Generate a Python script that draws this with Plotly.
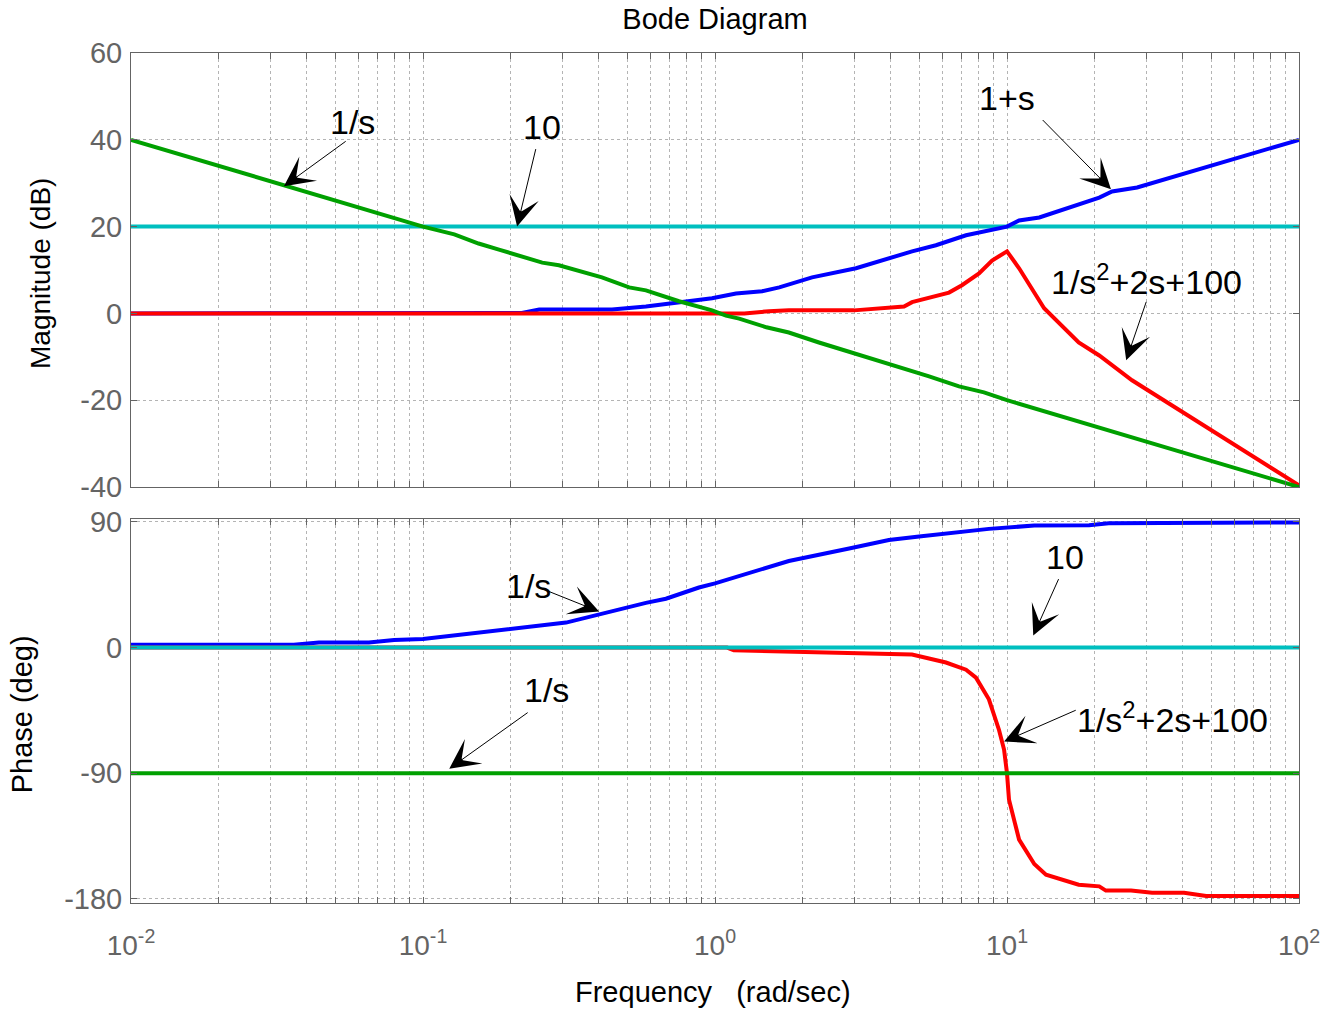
import numpy as np
import plotly.graph_objects as go
from plotly.subplots import make_subplots

# ---------------- data ----------------
# 1/s  (magnitude in dB, phase in deg)
w_int = [0.01, 0.1, 0.128, 0.155, 0.182, 0.202, 0.256, 0.292, 0.379, 0.41, 0.508, 0.58,
         0.753, 0.977, 1.09, 1.21, 1.5, 1.79, 2.27, 2.88, 3.37, 4.27, 5.41, 6.85, 8.34, 10, 100]
mag_int = [40, 20, 18.2, 16.1, 14.7, 13.8, 11.7, 11.1, 8.8, 8.3, 6.0, 5.3,
           2.8, 0.7, -0.5, -1.2, -3.2, -4.4, -6.7, -8.8, -10.1, -12.2, -14.5, -16.8, -18.2, -20, -40]
w_int_ph = [0.01, 100]
ph_int = [-90, -90]

# gain 10
w_gain = [0.01, 100]
mag_gain = [20, 20]
ph_gain = [0, 0]

# 1+s
w_lead = [0.01, 0.218, 0.25, 0.444, 0.58, 0.753, 0.977, 1.18, 1.45, 1.66, 2.15, 3.04, 3.94,
          4.73, 5.71, 7.24, 10.0, 11.0, 12.9, 16.3, 20.7, 22.9, 27.9, 100]
mag_lead = [0, 0.1, 0.9, 0.9, 1.6, 2.5, 3.5, 4.6, 5.1, 6.0, 8.3, 10.4, 12.7,
            14.3, 15.7, 18.0, 20.0, 21.4, 22.1, 24.4, 26.7, 28.1, 29.0, 40.0]
w_lead_ph = [0.01, 0.0361, 0.044, 0.0653, 0.0796, 0.1, 0.309, 0.401, 0.508, 0.58, 0.679,
             0.881, 1.0, 1.79, 2.88, 3.94, 5.0, 8.67, 12.4, 19.1, 22.3, 100]
ph_lead = [2.1, 2.1, 3.6, 3.6, 5.5, 6.2, 17.9, 23.6, 29.4, 32, 35,
           43, 46, 62, 71, 77, 79.5, 85, 87.4, 87.6, 89, 89.6]

# 1/(s^2+2s+100), normalised
w_osc = [0.01, 1.26, 1.53, 1.79, 2.99, 4.44, 4.73, 5.54, 6.33, 7.01, 8.02, 8.89, 10.0,
         11.0, 13.4, 17.6, 20.7, 26.8, 57.5, 100]
mag_osc = [0, 0, 0.5, 0.7, 0.7, 1.6, 2.6, 3.7, 4.8, 6.5, 9.2, 12.2, 14.3,
           10.4, 1.2, -6.7, -9.7, -15.4, -29.3, -39.6]
w_osc_ph = [0.01, 1.1, 1.16, 3.11, 4.73, 6.18, 7.24, 7.83, 8.67, 9.39, 9.77, 10.0, 10.16,
            11.0, 12.4, 13.6, 17.6, 20.7, 21.8, 26.6, 31.4, 40.4, 48.1, 100]
ph_osc = [0, 0, -2, -3.8, -5, -10.7, -15.8, -21.5, -37, -59, -73, -90, -109,
          -137.5, -155, -162.6, -169.8, -171, -174, -174, -175.5, -175.5, -177.8, -177.8]

mag_ticks = [-40, -20, 0, 20, 40, 60]
mag_labels = ["-40", "-20", "0", "20", "40", "60"]
ph_ticks = [-180, -90, 0, 90]
ph_labels = ["-180", "-90", "0", "90"]
freq_ticks = [0.01, 0.1, 1, 10, 100]
freq_labels = ["10<sup>-2</sup>", "10<sup>-1</sup>", "10<sup>0</sup>", "10<sup>1</sup>", "10<sup>2</sup>"]

GREEN = "#00A000"
CYAN = "#00BFBF"
BLUE = "#0000FF"
RED = "#FF0000"
AX = "#646464"
GRID = "#b4b4b4"
FONT = "Liberation Sans, Arial, sans-serif"

minor_vals = [m * 10.0 ** k for k in range(-2, 2) for m in range(2, 10)]

fig = make_subplots(rows=2, cols=1, shared_xaxes=False, vertical_spacing=0.0)

LW = 4
# magnitude plot
fig.add_trace(go.Scatter(x=w_gain, y=mag_gain, mode="lines", line=dict(color=CYAN, width=LW)), row=1, col=1)
fig.add_trace(go.Scatter(x=w_lead, y=mag_lead, mode="lines", line=dict(color=BLUE, width=LW)), row=1, col=1)
fig.add_trace(go.Scatter(x=w_osc, y=mag_osc, mode="lines", line=dict(color=RED, width=LW)), row=1, col=1)
fig.add_trace(go.Scatter(x=w_int, y=mag_int, mode="lines", line=dict(color=GREEN, width=LW)), row=1, col=1)
# phase plot
fig.add_trace(go.Scatter(x=w_lead_ph, y=ph_lead, mode="lines", line=dict(color=BLUE, width=LW)), row=2, col=1)
fig.add_trace(go.Scatter(x=w_osc_ph, y=ph_osc, mode="lines", line=dict(color=RED, width=LW)), row=2, col=1)
fig.add_trace(go.Scatter(x=w_int_ph, y=ph_int, mode="lines", line=dict(color=GREEN, width=LW)), row=2, col=1)
fig.add_trace(go.Scatter(x=w_gain, y=ph_gain, mode="lines", line=dict(color=CYAN, width=LW)), row=2, col=1)

xcommon = dict(
    type="log", range=[-2, 2], showline=True, linecolor=AX, linewidth=1, mirror="ticks",
    ticks="inside", ticklen=6, tickcolor=AX, tickvals=freq_ticks, automargin=False,
    showgrid=True, gridcolor=GRID, griddash="dot", gridwidth=1, zeroline=False,
    minor=dict(tickvals=minor_vals, ticks="inside", ticklen=6, tickcolor=AX,
               showgrid=True, gridcolor=GRID, griddash="dot", gridwidth=1),
    tickfont=dict(family=FONT, size=28, color=AX),
)
ycommon = dict(
    showline=True, linecolor=AX, linewidth=1, mirror="ticks", automargin=False,
    ticks="inside", ticklen=6, tickcolor=AX, ticklabelstandoff=2,
    showgrid=True, gridcolor=GRID, griddash="dot", gridwidth=1, zeroline=False,
    tickfont=dict(family=FONT, size=29, color=AX),
)

fig.update_layout(
    xaxis=dict(xcommon, domain=[0, 1], showticklabels=False, anchor="y"),
    xaxis2=dict(xcommon, domain=[0, 1], ticktext=freq_labels, anchor="y2", ticklabelstandoff=17),
    yaxis=dict(ycommon, domain=[0.4894, 1], range=[-40, 60], tickvals=mag_ticks,
               ticktext=mag_labels, anchor="x"),
    yaxis2=dict(ycommon, domain=[0, 0.4518], range=[-182.9, 92.1], tickvals=ph_ticks,
                ticktext=ph_labels, anchor="x2"),
)

fig.update_layout(
    width=1326, height=1010,
    margin=dict(l=131, r=27, t=53, b=107, autoexpand=False),
    paper_bgcolor="white", plot_bgcolor="white",
    showlegend=False,
    font=dict(family=FONT, color="black"),
    title=dict(text="Bode Diagram", x=0.5, xref="paper", xanchor="center",
               y=1 - 19 / 1010, yref="container", yanchor="middle",
               font=dict(family=FONT, size=29, color="black")),
)

# axis titles
fig.add_annotation(text="Magnitude (dB)", xref="paper", yref="paper", x=-0.0779, y=0.74,
                   textangle=-90, showarrow=False, xanchor="center", yanchor="middle",
                   font=dict(family=FONT, size=28, color="black"))
fig.add_annotation(text="Phase (deg)", xref="paper", yref="paper", x=-0.0933, y=0.222,
                   textangle=-90, showarrow=False, xanchor="center", yanchor="middle",
                   font=dict(family=FONT, size=29, color="black"))
fig.add_annotation(text="Frequency\u00a0\u00a0 (rad/sec)", xref="paper", yref="paper", x=0.498, y=-0.1047,
                   showarrow=False, xanchor="center", yanchor="middle",
                   font=dict(family=FONT, size=29, color="black"))

LBL = dict(family=FONT, size=34, color="black")


def label(text, w, v, xr, yr):
    fig.add_annotation(text=text, x=np.log10(w), y=v, xref=xr, yref=yr, showarrow=False,
                       xanchor="center", yanchor="middle", font=LBL)


def arrow(w_tip, v_tip, w_tail, v_tail, xr, yr):
    fig.add_annotation(text="", x=np.log10(w_tip), y=v_tip, xref=xr, yref=yr,
                       ax=np.log10(w_tail), ay=v_tail, axref=xr, ayref=yr,
                       showarrow=True, arrowhead=3, arrowsize=5, arrowwidth=1,
                       arrowcolor="black", standoff=0, startstandoff=0)


# magnitude labels
label("1/s", 0.0575, 44.2, "x", "y")
arrow(0.0334, 29.3, 0.055, 39.9, "x", "y")
label("10", 0.255, 43.0, "x", "y")
arrow(0.21, 20.0, 0.244, 38.2, "x", "y")
label("1+s", 10.0, 49.6, "x", "y")
arrow(22.7, 28.6, 13.1, 44.9, "x", "y")
label("1/s<sup>2</sup>+2s+100", 30.0, 7.8, "x", "y")
arrow(25.6, -10.8, 30.1, 3.0, "x", "y")

# phase labels
label("1/s", 0.229, 44.4, "x2", "y2")
arrow(0.401, 25.8, 0.245, 43.7, "x2", "y2")
label("10", 15.8, 65.2, "x2", "y2")
arrow(12.3, 8.6, 15.1, 50.1, "x2", "y2")
label("1/s", 0.265, -30.1, "x2", "y2")
arrow(0.123, -86.7, 0.231, -45.8, "x2", "y2")
label("1/s<sup>2</sup>+2s+100", 37.0, -50.1, "x2", "y2")
arrow(9.77, -67.3, 17.4, -44.4, "x2", "y2")

fig.write_html("out.html")
